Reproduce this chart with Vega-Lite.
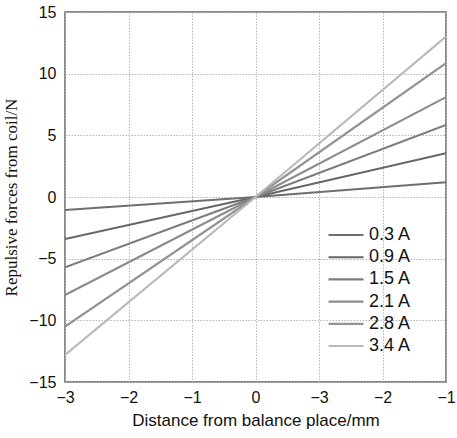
{
  "$schema": "https://vega.github.io/schema/vega-lite/v6.json",
  "autosize": {"type": "none"},
  "width": 381,
  "height": 370,
  "padding": {"left": 65, "top": 12, "right": 11, "bottom": 56},
  "background": "white",
  "config": {
    "view": {"stroke": "#8a8a8a", "strokeWidth": 2},
    "axis": {"labelFont": "Liberation Sans", "labelFontSize": 16, "labelColor": "#111", "domain": false, "ticks": false, "gridColor": "#b5b5b5", "gridDash": [1.5, 1.5], "gridWidth": 1}
  },
  "data": {"values": [
    {"series": "0.3 A", "x": -3, "y": -1.05},
    {"series": "0.3 A", "x": 0, "y": 0},
    {"series": "0.3 A", "x": 3, "y": 1.2},
    {"series": "0.9 A", "x": -3, "y": -3.4},
    {"series": "0.9 A", "x": 0, "y": 0},
    {"series": "0.9 A", "x": 3, "y": 3.55},
    {"series": "1.5 A", "x": -3, "y": -5.7},
    {"series": "1.5 A", "x": 0, "y": 0},
    {"series": "1.5 A", "x": 3, "y": 5.85},
    {"series": "2.1 A", "x": -3, "y": -7.95},
    {"series": "2.1 A", "x": 0, "y": 0},
    {"series": "2.1 A", "x": 3, "y": 8.1},
    {"series": "2.8 A", "x": -3, "y": -10.5},
    {"series": "2.8 A", "x": 0, "y": 0},
    {"series": "2.8 A", "x": 3, "y": 10.85},
    {"series": "3.4 A", "x": -3, "y": -12.8},
    {"series": "3.4 A", "x": 0, "y": 0},
    {"series": "3.4 A", "x": 3, "y": 13.0}
  ]},
  "mark": {"type": "line", "clip": true},
  "encoding": {
    "x": {"field": "x", "type": "quantitative", "scale": {"domain": [-3, 3], "nice": false, "zero": false},
      "axis": {"values": [-3, -2, -1, 0, 1, 2, 3], "labelExpr": "datum.value == 0 ? '0' : datum.value < 0 ? '−' + abs(datum.value) : '−' + (4 - datum.value)", "labelPadding": 7, "labelFlush": false, "title": "Distance from balance place/mm", "titleFont": "Liberation Sans", "titleFontSize": 17, "titleFontWeight": "normal", "titleColor": "#111", "titlePadding": 7}},
    "y": {"field": "y", "type": "quantitative", "scale": {"domain": [-15, 15], "nice": false},
      "axis": {"values": [-15, -10, -5, 0, 5, 10, 15], "labelExpr": "datum.value < 0 ? '−' + abs(datum.value) : datum.value", "labelPadding": 9, "labelFlush": false, "title": "Repulsive forces from coil/N", "titleFont": "Liberation Serif", "titleFontSize": 17, "titleFontWeight": "normal", "titleColor": "#111", "titlePadding": 8}},
    "color": {"field": "series", "type": "nominal",
      "scale": {"domain": ["0.3 A", "0.9 A", "1.5 A", "2.1 A", "2.8 A", "3.4 A"], "range": ["#6e6e6e", "#666666", "#7c7c7c", "#8c8c8c", "#939393", "#b9b9b9"]},
      "legend": {"orient": "none", "legendX": 262, "legendY": 215, "title": null, "symbolType": "stroke", "symbolSize": 1225, "clipHeight": 16, "rowPadding": 4.2, "labelFont": "Liberation Sans", "labelFontSize": 18, "labelColor": "#111", "labelOffset": 4}},
    "strokeWidth": {"field": "series", "type": "nominal",
      "scale": {"domain": ["0.3 A", "0.9 A", "1.5 A", "2.1 A", "2.8 A", "3.4 A"], "range": [2, 2.2, 2.6, 1.8, 3, 1.6]}}
  }
}
